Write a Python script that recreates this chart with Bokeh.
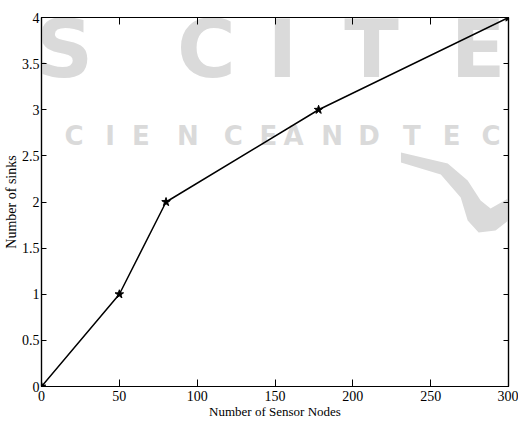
from bokeh.plotting import figure
from bokeh.models import Range1d, LinearAxis, FixedTicker
from bokeh.core.properties import value
from bokeh.embed import file_html
from bokeh.resources import INLINE

# ---- data ----
nodes = [0, 50, 80, 178, 300]
sinks = [0, 1, 2, 3, 4]
x_ticks = [0, 50, 100, 150, 200, 250, 300]
x_tick_labels = ["0", "50", "100", "150", "200", "250", "300"]
y_ticks = [0, 0.5, 1, 1.5, 2, 2.5, 3, 3.5, 4]
y_tick_labels = ["0", "0.5", "1", "1.5", "2", "2.5", "3", "3.5", "4"]
x_title = "Number of Sensor Nodes"
y_title = "Number of sinks"

# ---- layout ----
W, H = 518, 426
L, R, T, B = 39, 10, 17, 40
X0, X1, Y0, Y1 = 0, 300, 0, 4
FW, FH = W - L - R, H - T - B

def px_x(px):
    return X0 + (px - L) * (X1 - X0) / FW

def px_y(py):
    return Y0 + (H - B - py) * (Y1 - Y0) / FH

p = figure(width=W, height=H, output_backend="svg", toolbar_location=None,
           x_range=Range1d(X0, X1), y_range=Range1d(Y0, Y1),
           min_border_left=L, min_border_right=R, min_border_top=T, min_border_bottom=B)
p.outline_line_color = "black"
p.outline_line_width = 1.2
p.background_fill_color = "white"
p.border_fill_color = "white"
p.xgrid.visible = False
p.ygrid.visible = False

TICK_FONT = "Liberation Serif"

def style_axis(ax, ticks, labels, show_labels, tick_len, side, title=None, title_size="13px"):
    ax.ticker = FixedTicker(ticks=ticks)
    if show_labels:
        ax.major_label_overrides = {float(t): l for t, l in zip(ticks, labels)}
        ax.major_label_text_font = TICK_FONT
        ax.major_label_text_font_size = "14px"
        ax.major_label_text_color = "black"
        ax.major_label_standoff = 4 if side == "below" else 2
    else:
        ax.major_label_text_font_size = "1px"
        ax.major_label_text_alpha = 0
        ax.major_label_standoff = 0
    if title:
        ax.axis_label = title
        ax.axis_label_text_font = TICK_FONT
        ax.axis_label_text_font_size = title_size
        ax.axis_label_text_font_style = "normal"
        ax.axis_label_text_color = "black"
        ax.axis_label_standoff = 0
    ax.major_tick_in = tick_len
    ax.major_tick_out = 0
    ax.minor_tick_line_color = None
    ax.axis_line_color = "black"
    ax.axis_line_width = 1.2
    ax.major_tick_line_color = "black"
    ax.major_tick_line_width = 1

style_axis(p.xaxis[0], x_ticks, x_tick_labels, True, 7, "below", x_title, "13px")
style_axis(p.yaxis[0], y_ticks, y_tick_labels, True, 5, "left", y_title, "14px")
top_ax = LinearAxis()
style_axis(top_ax, x_ticks, x_tick_labels, False, 7, "above")
p.add_layout(top_ax, "above")
right_ax = LinearAxis()
style_axis(right_ax, y_ticks, y_tick_labels, False, 5, "right")
p.add_layout(right_ax, "right")

# ---- watermark (decoration behind the chart) ----
WM = "#dadada"
swoosh_px = [(400, 152), (447, 163), (467, 180), (480, 200), (490, 208), (518, 192),
             (518, 212), (495, 230), (478, 232), (467, 220), (460, 197), (440, 174), (400, 162)]
p.patch([px_x(a) for a, b in swoosh_px], [px_y(b) for a, b in swoosh_px],
        fill_color=WM, line_color=None, level="underlay")
small_letters = list("SCIENCEANDTEC")
small_left = [20, 62, 103, 130, 175, 222, 258, 282, 320, 357, 402, 442, 481]
p.text(x=[px_x(c) for c in small_left], y=[px_y(150)] * len(small_letters), text=small_letters,
       text_font=value("DejaVu Sans"), text_font_style="bold", text_font_size="26px",
       text_color=WM, level="underlay")
big_letters = ["S", "C", "I", "T", "E"]
big_left = [33, 175, 266, 343, 450]
p.text(x=[px_x(c) for c in big_left], y=[px_y(95)] * len(big_letters), text=big_letters,
       text_font=value("DejaVu Sans"), text_font_style="bold", text_font_size="80px",
       text_color=WM, level="underlay")

# ---- data line ----
p.line(nodes, sinks, line_color="black", line_width=1.5)
p.scatter(nodes, sinks, marker="star", size=9, fill_color="black", line_color="black")

open("out.html", "w").write(file_html(p, INLINE))
